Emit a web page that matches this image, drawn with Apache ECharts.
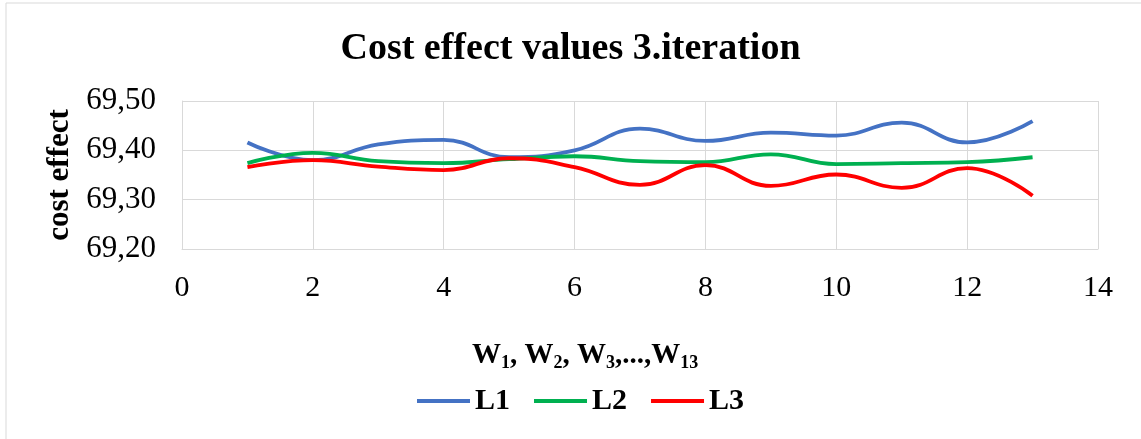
<!DOCTYPE html>
<html><head><meta charset="utf-8">
<script src="https://cdn.jsdelivr.net/npm/echarts@6/dist/echarts.min.js"></script>
<style>html,body{margin:0;padding:0;background:#fff}#c{width:1141px;height:439px}</style>
</head><body><div id="c"></div>
<script>
const xValues = [1,2,3,4,5,6,7,8,9,10,11,12,13];
const L1 = [69.416,69.380,69.412,69.421,69.386,69.400,69.444,69.419,69.436,69.430,69.456,69.416,69.459];
const L2 = [69.374,69.395,69.378,69.374,69.382,69.388,69.378,69.376,69.392,69.372,69.374,69.376,69.386];
const L3 = [69.366,69.380,69.367,69.360,69.384,69.366,69.330,69.370,69.328,69.351,69.324,69.364,69.308];
const seriesNames = ['L1','L2','L3'];
const colors = ['#4472C4','#00B050','#FF0000'];

const F = 'Liberation Serif, Times New Roman, serif';
const chart = echarts.init(document.getElementById('c'));
const mk = (arr) => xValues.map((x,i)=>[x,arr[i]]);
chart.setOption({
  animation:false,
  backgroundColor:'#fff',
  graphic:[{type:'rect',shape:{x:6,y:3,width:1200,height:500},style:{fill:'none',stroke:'#D9D9D9',lineWidth:1},silent:true}],
  title:{text:'Cost effect values 3.iteration',left:'center',top:25,
    textStyle:{fontFamily:F,fontWeight:'bold',fontSize:38,color:'#000'}},
  legend:{bottom:18,left:412,itemWidth:53,itemHeight:4,itemGap:24,icon:'rect',
    textStyle:{fontFamily:F,fontWeight:'bold',fontSize:30,color:'#000'},
    data:seriesNames},
  grid:{left:182,right:43,top:101,bottom:190,containLabel:false},
  xAxis:{type:'value',min:0,max:14,interval:2,
    name:'{b|W}{s|1}{b|, W}{s|2}{b|, W}{s|3}{b|,...,W}{s|13}',nameLocation:'middle',nameGap:91,
    nameTextStyle:{padding:[0,110,0,0],rich:{b:{fontFamily:F,fontWeight:'bold',fontSize:29,color:'#000'},
      s:{fontFamily:F,fontWeight:'bold',fontSize:18,color:'#000',padding:[14,0,0,0]}}},
    axisLine:{show:true,lineStyle:{color:'#D9D9D9',width:1}},
    axisTick:{show:false},
    splitLine:{show:true,lineStyle:{color:'#D9D9D9',width:1}},
    axisLabel:{fontFamily:F,fontSize:30,color:'#000',margin:24}},
  yAxis:{type:'value',min:69.2,max:69.5,interval:0.1,
    name:'cost effect',nameLocation:'middle',nameGap:104,nameRotate:90,
    nameTextStyle:{fontFamily:F,fontWeight:'bold',fontSize:31,color:'#000'},
    axisLine:{show:true,lineStyle:{color:'#D9D9D9',width:1}},
    axisTick:{show:false},
    splitLine:{show:true,lineStyle:{color:'#D9D9D9',width:1}},
    axisLabel:{fontFamily:F,fontSize:31,color:'#000',margin:26,
      formatter:v=>v.toFixed(2).replace('.',',')}},
  series:[L1,L2,L3].map((arr,i)=>({name:seriesNames[i],type:'line',data:mk(arr),smooth:0.45,
    showSymbol:false,symbol:'none',lineStyle:{width:3.8,color:colors[i]},itemStyle:{color:colors[i]}}))
});
</script></body></html>
